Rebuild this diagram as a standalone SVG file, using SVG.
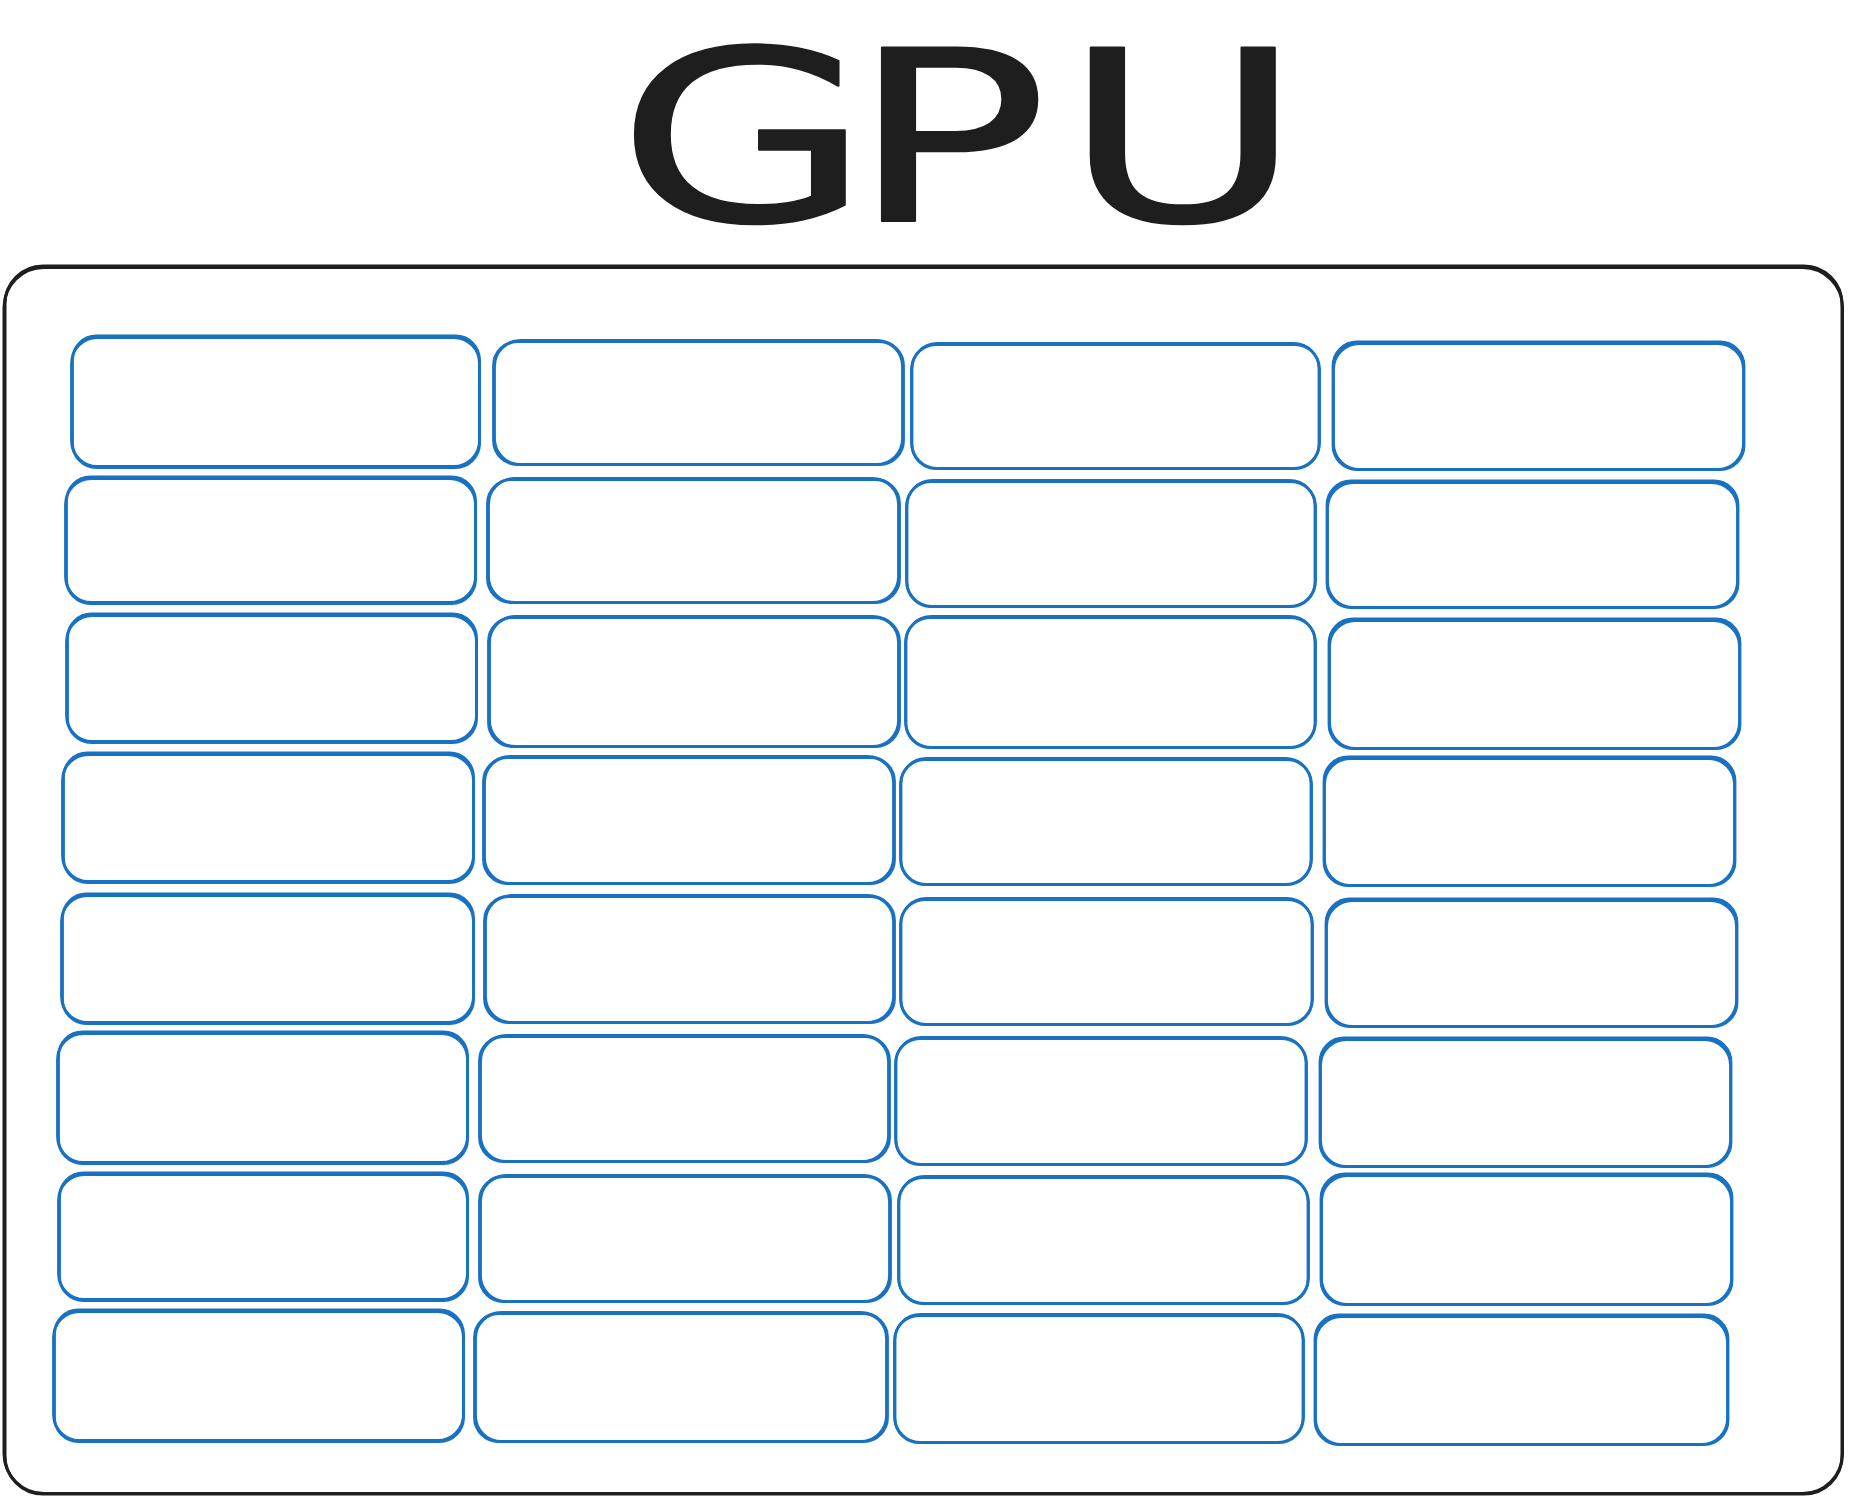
<svg xmlns="http://www.w3.org/2000/svg" width="1850" height="1503" viewBox="0 0 1850 1503">
<style>
.frame rect{fill:none;stroke:#1e1e1e;stroke-width:3}
.cell rect{fill:none;stroke:#1971c2;stroke-width:2.8}
.title{font-family:"DejaVu Sans","Liberation Sans",sans-serif;font-size:238px;fill:#1e1e1e;stroke:#1e1e1e;stroke-width:2;stroke-linejoin:round}
</style>
<rect width="1850" height="1503" fill="#ffffff"/>
<g id="title">
<text class="title" transform="scale(1.38,1)" x="447 616 770" y="221">GPU</text>
</g>
<g id="gpu-frame" class="frame">
<rect x="5" y="266" width="1837" height="1228" rx="38"/>
<rect x="4" y="267.5" width="1838.5" height="1226" rx="40"/>
</g>
<g id="cores">
<g id="core-r1c1" class="cell"><rect x="71.5" y="337.5" width="408" height="129" rx="26"/><rect x="72.5" y="336" width="407" height="131.5" rx="24"/></g>
<g id="core-r1c2" class="cell"><rect x="494.5" y="340.5" width="408" height="124" rx="26"/><rect x="493.5" y="341.5" width="410" height="123" rx="24"/></g>
<g id="core-r1c3" class="cell"><rect x="911.5" y="343.5" width="408" height="125" rx="26"/><rect x="912" y="344.5" width="407" height="124" rx="24"/></g>
<g id="core-r1c4" class="cell"><rect x="1333.5" y="343.5" width="410" height="126" rx="26"/><rect x="1333" y="342" width="411" height="127.5" rx="24"/></g>
<g id="core-r2c1" class="cell"><rect x="65.5" y="478.5" width="410" height="124" rx="26"/><rect x="66.5" y="477" width="409" height="126.5" rx="24"/></g>
<g id="core-r2c2" class="cell"><rect x="488.5" y="478.5" width="410" height="124" rx="26"/><rect x="487.5" y="479.5" width="412" height="123" rx="24"/></g>
<g id="core-r2c3" class="cell"><rect x="906.5" y="480.5" width="409" height="126" rx="26"/><rect x="907" y="481.5" width="408" height="125" rx="24"/></g>
<g id="core-r2c4" class="cell"><rect x="1327.5" y="482.5" width="410" height="125" rx="26"/><rect x="1327" y="481" width="411" height="126.5" rx="24"/></g>
<g id="core-r3c1" class="cell"><rect x="66.5" y="615.5" width="410" height="126" rx="26"/><rect x="67.5" y="614" width="409" height="128.5" rx="24"/></g>
<g id="core-r3c2" class="cell"><rect x="489.5" y="616.5" width="409" height="130" rx="26"/><rect x="488.5" y="617.5" width="411" height="129" rx="24"/></g>
<g id="core-r3c3" class="cell"><rect x="905.5" y="616.5" width="410" height="131" rx="26"/><rect x="906" y="617.5" width="409" height="130" rx="24"/></g>
<g id="core-r3c4" class="cell"><rect x="1329.5" y="620.5" width="410" height="128" rx="26"/><rect x="1329" y="619" width="411" height="129.5" rx="24"/></g>
<g id="core-r4c1" class="cell"><rect x="62.5" y="754.5" width="411" height="127" rx="26"/><rect x="63.5" y="753" width="410" height="129.5" rx="24"/></g>
<g id="core-r4c2" class="cell"><rect x="484.5" y="756.5" width="409" height="127" rx="26"/><rect x="483.5" y="757.5" width="411" height="126" rx="24"/></g>
<g id="core-r4c3" class="cell"><rect x="900.5" y="758.5" width="411" height="126" rx="26"/><rect x="901" y="759.5" width="410" height="125" rx="24"/></g>
<g id="core-r4c4" class="cell"><rect x="1324.5" y="758.5" width="410" height="127" rx="26"/><rect x="1324" y="757" width="411" height="128.5" rx="24"/></g>
<g id="core-r5c1" class="cell"><rect x="61.5" y="895.5" width="412" height="127" rx="26"/><rect x="62.5" y="894" width="411" height="129.5" rx="24"/></g>
<g id="core-r5c2" class="cell"><rect x="485.5" y="895.5" width="408" height="127" rx="26"/><rect x="484.5" y="896.5" width="410" height="126" rx="24"/></g>
<g id="core-r5c3" class="cell"><rect x="900.5" y="898.5" width="412" height="126" rx="26"/><rect x="901" y="899.5" width="411" height="125" rx="24"/></g>
<g id="core-r5c4" class="cell"><rect x="1326.5" y="900.5" width="410" height="126" rx="26"/><rect x="1326" y="899" width="411" height="127.5" rx="24"/></g>
<g id="core-r6c1" class="cell"><rect x="57.5" y="1033.5" width="410" height="129" rx="26"/><rect x="58.5" y="1032" width="409" height="131.5" rx="24"/></g>
<g id="core-r6c2" class="cell"><rect x="480.5" y="1035.5" width="408" height="126" rx="26"/><rect x="479.5" y="1036.5" width="410" height="125" rx="24"/></g>
<g id="core-r6c3" class="cell"><rect x="895.5" y="1037.5" width="411" height="127" rx="26"/><rect x="896" y="1038.5" width="410" height="126" rx="24"/></g>
<g id="core-r6c4" class="cell"><rect x="1320.5" y="1039.5" width="410" height="127" rx="26"/><rect x="1320" y="1038" width="411" height="128.5" rx="24"/></g>
<g id="core-r7c1" class="cell"><rect x="58.5" y="1174.5" width="409" height="125" rx="26"/><rect x="59.5" y="1173" width="408" height="127.5" rx="24"/></g>
<g id="core-r7c2" class="cell"><rect x="480.5" y="1175.5" width="409" height="126" rx="26"/><rect x="479.5" y="1176.5" width="411" height="125" rx="24"/></g>
<g id="core-r7c3" class="cell"><rect x="898.5" y="1176.5" width="410" height="127" rx="26"/><rect x="899" y="1177.5" width="409" height="126" rx="24"/></g>
<g id="core-r7c4" class="cell"><rect x="1321.5" y="1175.5" width="410" height="129" rx="26"/><rect x="1321" y="1174" width="411" height="130.5" rx="24"/></g>
<g id="core-r8c1" class="cell"><rect x="53.5" y="1311.5" width="410" height="129" rx="26"/><rect x="54.5" y="1310" width="409" height="131.5" rx="24"/></g>
<g id="core-r8c2" class="cell"><rect x="475.5" y="1312.5" width="411" height="129" rx="26"/><rect x="474.5" y="1313.5" width="413" height="128" rx="24"/></g>
<g id="core-r8c3" class="cell"><rect x="894.5" y="1314.5" width="409" height="128" rx="26"/><rect x="895" y="1315.5" width="408" height="127" rx="24"/></g>
<g id="core-r8c4" class="cell"><rect x="1315.5" y="1316.5" width="412" height="128" rx="26"/><rect x="1315" y="1315" width="413" height="129.5" rx="24"/></g>
</g>
<g id="connectors"/>
</svg>
